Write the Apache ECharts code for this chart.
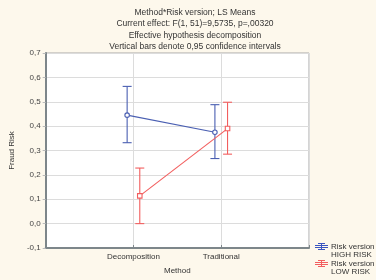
<!DOCTYPE html>
<html lang="en">
<head>
  <meta charset="UTF-8">
  <script src="https://cdn.jsdelivr.net/npm/echarts@6/dist/echarts.min.js"></script>
  <style>
    html, body { margin: 0; padding: 0; background: #fdf8ec; }
    .container { width: 376px; height: 280px; }
  </style>
</head>
<body>
  <div class="container"></div>
  <script>
    const categories = ["Decomposition", "Traditional"];
    const yTicks = [-0.1, 0.0, 0.1, 0.2, 0.3, 0.4, 0.5, 0.6, 0.7];

    const highMean = [0.445, 0.375];
    const highLow = [0.332, 0.267];
    const highHigh = [0.563, 0.488];

    const lowMean = [0.114, 0.390];
    const lowLow = [0.000, 0.285];
    const lowHigh = [0.228, 0.498];

    const blue = "#4a5fb2";
    const red = "#f25e5e";
    const shift = 0.072;

    const pts = (vals, off) => vals.map((v, i) => [i + 1 + off, v]);
    const bars = (lo, hi, off) => lo.map((v, i) => [i + 1 + off, v, hi[i]]);

    const errorBars = (name, data, color) => ({
      name: name,
      type: "custom",
      data: data,
      z: 3,
      renderItem: (params, api) => {
        const top = api.coord([api.value(0), api.value(2)]);
        const bot = api.coord([api.value(0), api.value(1)]);
        const w = 4.5;
        const style = { stroke: color, lineWidth: 1.1 };
        return {
          type: "group",
          children: [
            { type: "line", shape: { x1: top[0], y1: top[1], x2: bot[0], y2: bot[1] }, style },
            { type: "line", shape: { x1: top[0] - w, y1: top[1], x2: top[0] + w, y2: top[1] }, style },
            { type: "line", shape: { x1: bot[0] - w, y1: bot[1], x2: bot[0] + w, y2: bot[1] }, style },
          ],
        };
      },
    });

    // legend icon: short line with an error bar, like the reference
    const legendIcon = (y, color) => {
      const s = { stroke: color, lineWidth: 1 };
      return [
        { type: "line", shape: { x1: 315, y1: y - 1, x2: 328, y2: y - 1 }, style: s },
        { type: "line", shape: { x1: 315, y1: y + 1, x2: 328, y2: y + 1 }, style: s },
        { type: "line", shape: { x1: 321.5, y1: y - 3, x2: 321.5, y2: y + 3 }, style: s },
        { type: "line", shape: { x1: 318, y1: y - 3, x2: 325, y2: y - 3 }, style: s },
        { type: "line", shape: { x1: 318, y1: y + 3, x2: 325, y2: y + 3 }, style: s },
      ];
    };

    const chart = echarts.init(document.querySelector(".container"));
    const options = {
      animation: false,
      backgroundColor: "#fdf8ec",
      textStyle: { fontFamily: "Liberation Sans" },
      title: {
        text: "Method*Risk version; LS Means\nCurrent effect: F(1, 51)=9,5735, p=,00320\nEffective hypothesis decomposition\nVertical bars denote 0,95 confidence intervals",
        left: 190,
        textAlign: "center",
        top: 2,
        textStyle: { fontSize: 8.5, fontWeight: "normal", color: "#333", lineHeight: 11.3, fontFamily: "Liberation Sans" },
      },
      grid: {
        left: 38, right: 67, top: 53, bottom: 31,
        show: true, backgroundColor: "#ffffff", borderColor: "#a9a9a9", borderWidth: 1,
      },
      xAxis: {
        type: "value",
        min: 0, max: 3, interval: 1,
        name: "Method",
        nameLocation: "middle",
        nameGap: 19,
        nameTextStyle: { fontSize: 8, color: "#333" },
        axisLine: { show: true, onZero: false, lineStyle: { color: "#7d868a", width: 2 } },
        axisTick: { show: true, inside: true, length: 3, lineStyle: { color: "#7d868a" } },
        axisLabel: {
          fontSize: 8, color: "#333", margin: 5,
          formatter: (v) => categories[v - 1] || "",
        },
        splitLine: { show: true, lineStyle: { color: "#dcdcdc" } },
      },
      yAxis: {
        type: "value",
        min: -0.1, max: 0.7, interval: 0.1,
        name: "Fraud Risk",
        nameLocation: "middle",
        nameGap: 27,
        nameTextStyle: { fontSize: 8, color: "#333" },
        axisLine: { show: true, onZero: false, lineStyle: { color: "#7d868a", width: 2 } },
        axisTick: { show: true, length: 3, lineStyle: { color: "#bbbbbb" } },
        axisLabel: {
          fontSize: 8, color: "#444", margin: 5,
          formatter: (v) => {
            const t = yTicks.find((y) => Math.abs(y - v) < 1e-6);
            return (t === undefined ? v : t).toFixed(1).replace(".", ",");
          },
        },
        splitLine: { show: true, lineStyle: { color: "#dcdcdc" } },
      },
      series: [
        errorBars("highErr", bars(highLow, highHigh, -shift), blue),
        errorBars("lowErr", bars(lowLow, lowHigh, shift), red),
        {
          name: "Risk version HIGH RISK",
          type: "line",
          data: pts(highMean, -shift),
          symbol: "circle",
          symbolSize: 4.5,
          z: 4,
          lineStyle: { color: blue, width: 1.1 },
          itemStyle: { color: "#ffffff", borderColor: blue, borderWidth: 1.1 },
        },
        {
          name: "Risk version LOW RISK",
          type: "line",
          data: pts(lowMean, shift),
          symbol: "rect",
          symbolSize: 4.5,
          z: 4,
          lineStyle: { color: red, width: 1.1 },
          itemStyle: { color: "#ffffff", borderColor: red, borderWidth: 1.1 },
        },
      ],
      graphic: [
        ...legendIcon(246.5, "#3a55c0"),
        { type: "text", left: 331, top: 242.5, style: { text: "Risk version\nHIGH RISK", fontSize: 8, lineHeight: 8.5, fill: "#333", fontFamily: "Liberation Sans" } },
        ...legendIcon(263.5, red),
        { type: "text", left: 331, top: 259.5, style: { text: "Risk version\nLOW RISK", fontSize: 8, lineHeight: 8.5, fill: "#333", fontFamily: "Liberation Sans" } },
      ],
    };

    chart.setOption(options);
  </script>
</body>
</html>
